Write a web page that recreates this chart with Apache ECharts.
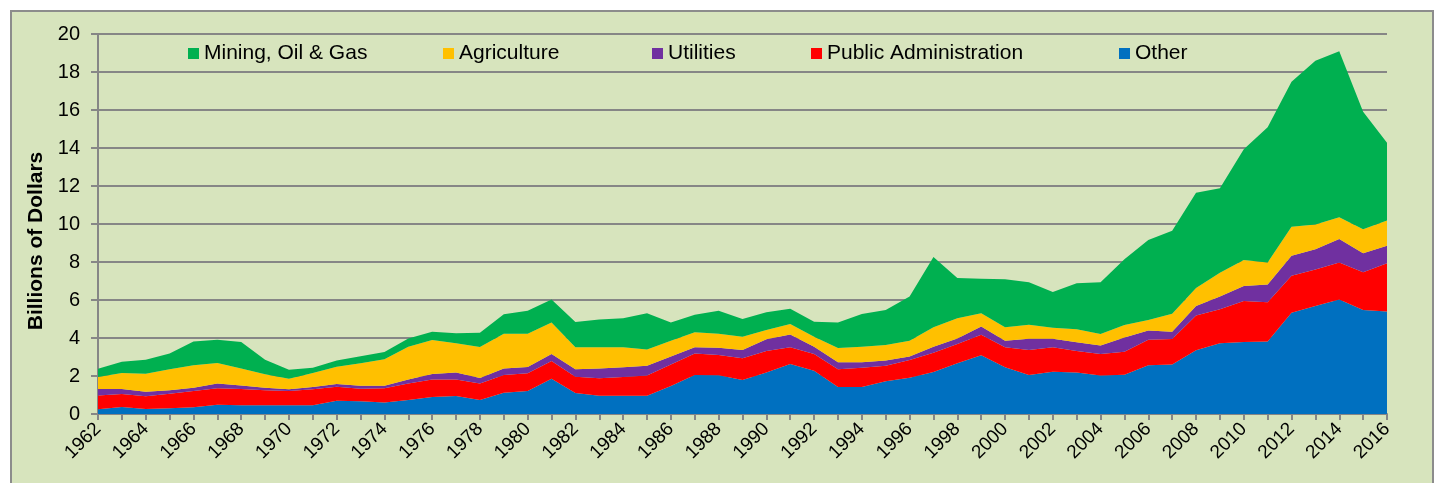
<!DOCTYPE html>
<html style="height: 100%">
<head>
    <meta charset="utf-8">
    <script type="text/javascript" src="https://cdn.jsdelivr.net/npm/echarts@6/dist/echarts.min.js"></script>
</head>
<body style="height: 100%; margin: 0; background: #ffffff; overflow: hidden">
    <div id="box" style="position: absolute; left: 10px; top: 10px; width: 1420px; height: 500px; border: 2px solid #8c8c8c; background: #d7e4bd"></div>
    <div id="container" style="position: absolute; left: 0; top: 0; width: 1440px; height: 483px"></div>
<script type="text/javascript">
    // years 1962 - 2016
    var years = [];
    for (var y = 1962; y <= 2016; y++) years.push(String(y));

    // billions of dollars, per sector (stacked bottom -> top: other, public admin, utilities, agriculture, mining)
    var other = [0.25, 0.37, 0.26, 0.30, 0.35, 0.49, 0.46, 0.46, 0.46, 0.46,
        0.70, 0.67, 0.60, 0.74, 0.89, 0.95, 0.74, 1.12, 1.21, 1.86,
        1.11, 0.96, 0.96, 0.96, 1.47, 2.05, 2.04, 1.79, 2.18, 2.63,
        2.28, 1.42, 1.42, 1.72, 1.91, 2.21, 2.67, 3.09, 2.46, 2.05,
        2.23, 2.19, 2.02, 2.07, 2.56, 2.61, 3.35, 3.72, 3.79, 3.82,
        5.33, 5.68, 6.03, 5.47, 5.40];
    var publicAdmin = [0.73, 0.68, 0.67, 0.77, 0.86, 0.86, 0.85, 0.79, 0.75, 0.84,
        0.74, 0.66, 0.75, 0.87, 0.92, 0.87, 0.86, 0.93, 0.93, 0.93,
        0.85, 0.92, 0.99, 1.06, 1.14, 1.14, 1.06, 1.14, 1.14, 0.88,
        0.88, 0.93, 1.02, 0.82, 0.93, 1.02, 1.01, 1.08, 1.05, 1.32,
        1.28, 1.13, 1.14, 1.21, 1.35, 1.34, 1.83, 1.79, 2.16, 2.06,
        1.95, 1.93, 1.95, 1.99, 2.53];
    var utilities = [0.33, 0.27, 0.24, 0.18, 0.17, 0.26, 0.19, 0.13, 0.09, 0.12,
        0.14, 0.16, 0.14, 0.21, 0.29, 0.36, 0.29, 0.35, 0.33, 0.37,
        0.39, 0.52, 0.51, 0.52, 0.41, 0.32, 0.39, 0.44, 0.61, 0.68,
        0.38, 0.37, 0.28, 0.27, 0.18, 0.31, 0.30, 0.43, 0.35, 0.59,
        0.45, 0.45, 0.44, 0.74, 0.49, 0.38, 0.50, 0.67, 0.79, 0.93,
        1.05, 1.06, 1.23, 1.00, 0.93];
    var agriculture = [0.64, 0.84, 0.95, 1.10, 1.18, 1.07, 0.90, 0.71, 0.56, 0.74,
        0.91, 1.18, 1.39, 1.72, 1.79, 1.54, 1.64, 1.83, 1.76, 1.66,
        1.16, 1.11, 1.05, 0.86, 0.84, 0.79, 0.74, 0.70, 0.49, 0.55,
        0.53, 0.75, 0.82, 0.82, 0.84, 1.02, 1.06, 0.70, 0.70, 0.74,
        0.58, 0.69, 0.61, 0.66, 0.55, 0.95, 0.95, 1.26, 1.36, 1.17,
        1.53, 1.31, 1.14, 1.26, 1.33];
    var mining = [0.43, 0.59, 0.74, 0.84, 1.25, 1.23, 1.39, 0.77, 0.47, 0.28,
        0.33, 0.37, 0.38, 0.44, 0.44, 0.53, 0.75, 1.02, 1.21, 1.20,
        1.33, 1.47, 1.53, 1.90, 0.96, 0.93, 1.21, 0.93, 0.93, 0.80,
        0.79, 1.35, 1.72, 1.84, 2.32, 3.70, 2.12, 1.82, 2.53, 2.23,
        1.88, 2.42, 2.72, 3.46, 4.21, 4.37, 5.02, 4.44, 5.83, 7.11,
        7.63, 8.61, 8.74, 6.19, 4.09];

    var names = ['Other', 'Public Administration', 'Utilities', 'Agriculture', 'Mining, Oil & Gas'];
    var colors = ['#0070c0', '#ff0000', '#7030a0', '#ffc000', '#00b050'];
    var values = [other, publicAdmin, utilities, agriculture, mining];

    // legend order and x positions as in the picture
    var legendOrder = ['Mining, Oil & Gas', 'Agriculture', 'Utilities', 'Public Administration', 'Other'];
    var legendLeft = [183, 438, 647, 806, 1114];

    var font = 'Liberation Sans, Arial, sans-serif';
    var gray = '#868686';

    var dom = document.getElementById("container");
    var myChart = echarts.init(dom);

    var legends = [];
    for (var i = 0; i < legendOrder.length; i++) {
        legends.push({
            data: [legendOrder[i]],
            left: legendLeft[i],
            top: 38,
            icon: 'rect',
            itemWidth: 11,
            itemHeight: 11,
            itemGap: 5,
            textStyle: {fontFamily: font, fontSize: 21, color: '#000'}
        });
    }

    var series = [];
    for (var j = 0; j < names.length; j++) {
        series.push({
            name: names[j],
            type: 'line',
            stack: 'total',
            data: values[j],
            symbol: 'none',
            lineStyle: {width: 0},
            areaStyle: {color: colors[j], opacity: 1},
            itemStyle: {color: colors[j]},
            emphasis: {disabled: true}
        });
    }

    myChart.setOption({
        animation: false,
        backgroundColor: 'transparent',
        legend: legends,
        grid: {
            left: 98,
            right: 53,
            top: 34,
            bottom: 69
        },
        xAxis: {
            type: 'category',
            boundaryGap: false,
            data: years,
            axisLine: {lineStyle: {color: gray, width: 2}},
            axisTick: {show: true, interval: 0, length: 6, lineStyle: {color: gray, width: 2}},
            axisLabel: {
                interval: 1,
                rotate: 45,
                margin: 12,
                fontFamily: font,
                fontSize: 19,
                color: '#000'
            },
            splitLine: {show: false}
        },
        yAxis: {
            type: 'value',
            min: 0,
            max: 20,
            interval: 2,
            name: 'Billions of Dollars',
            nameLocation: 'middle',
            nameGap: 51,
            nameTextStyle: {
                fontFamily: font,
                fontSize: 21,
                fontWeight: 'bold',
                color: '#000',
                padding: [0, 34, 0, 0]
            },
            axisLine: {show: true, lineStyle: {color: gray, width: 2}},
            axisTick: {show: true, length: 7, lineStyle: {color: gray, width: 2}},
            axisLabel: {margin: 18, fontFamily: font, fontSize: 20, color: '#000'},
            splitLine: {lineStyle: {color: gray, width: 2}}
        },
        series: series
    });
</script>
</body>
</html>
